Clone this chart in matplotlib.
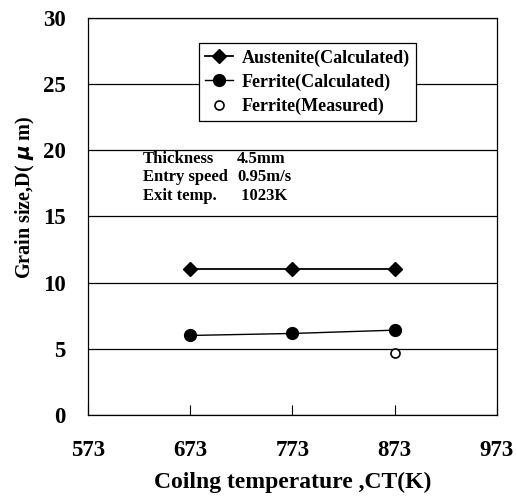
import matplotlib.pyplot as plt

plt.rcParams["font.family"] = ["Liberation Serif", "DejaVu Serif"]
plt.rcParams["font.weight"] = "bold"

# coiling temperature (K) and grain sizes (um)
ct = [673, 773, 873]
austenite_calc = [11.0, 11.0, 11.0]
ferrite_calc = [6.0, 6.15, 6.4]
ct_meas = [873]
ferrite_meas = [4.7]

fig = plt.figure(figsize=(5.17, 4.98), dpi=100)
ax = fig.add_axes([0.170, 0.167, 0.791, 0.797])

ax.plot(ct, austenite_calc, color="black", lw=1.3, marker="D", ms=7.5,
        label="Austenite(Calculated)")
ax.plot(ct, ferrite_calc, color="black", lw=1.0, marker="o", ms=8.5,
        label="Ferrite(Calculated)")
ax.plot(ct_meas, ferrite_meas, ls="none", marker="o", ms=6.5,
        mfc="white", mec="black", mew=1.2, label="Ferrite(Measured)")

ax.set_xlim(573, 973)
ax.set_ylim(0, 30)
ax.set_xticks([573, 673, 773, 873, 973])
ax.set_yticks(range(0, 31, 5))
ax.yaxis.grid(True, color="black", lw=0.9)
ax.set_axisbelow(True)
ax.tick_params(axis="x", direction="in", length=7, pad=18, labelsize=16.5)
ax.tick_params(axis="y", length=0, pad=16, labelsize=16.5)
for lab in ax.get_xticklabels() + ax.get_yticklabels():
    lab.set_fontweight("bold")
for s in ax.spines.values():
    s.set_linewidth(0.9)

ax.set_xlabel("Coilng temperature ,CT(K)", fontsize=17, fontweight="bold",
              labelpad=8)
ax.set_ylabel("Grain size,D( $\\mu$ m)", fontsize=14.5, fontweight="bold")
ax.yaxis.set_label_coords(-0.125, 0.547)

leg = ax.legend(loc="upper left", bbox_to_anchor=(0.272, 0.937),
                fontsize=13, frameon=True, fancybox=False,
                edgecolor="black", framealpha=1, handlelength=1.5,
                handletextpad=0.5, borderpad=0.35, labelspacing=0.38,
                borderaxespad=0)
leg.get_frame().set_linewidth(0.9)
for t in leg.get_texts():
    t.set_fontweight("bold")

cond_names = ["Thickness", "Entry speed", "Exit temp."]
cond_values = ["4.5mm", "0.95m/s", " 1023K"]
for i, (n, v) in enumerate(zip(cond_names, cond_values)):
    y = 19.35 - i * 1.4
    ax.text(627, y, n, fontsize=12, fontweight="bold", va="center")
    ax.text(719, y, v, fontsize=12, fontweight="bold", va="center")

fig.savefig("out.png", dpi=100)
